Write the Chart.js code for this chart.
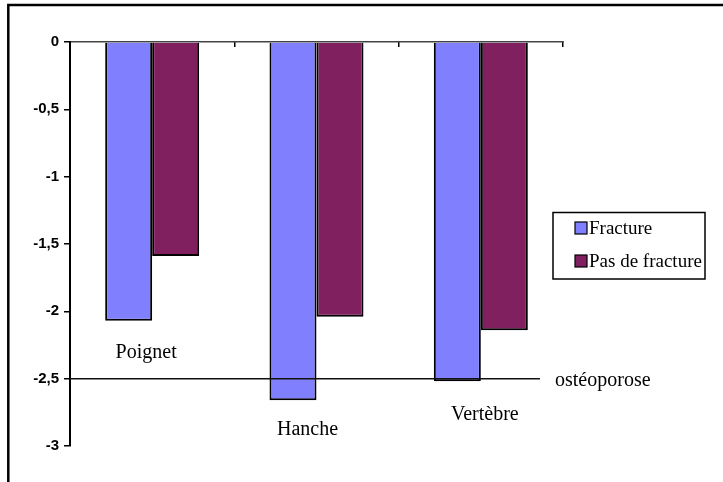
<!DOCTYPE html>
<html>
<head>
<meta charset="utf-8">
<script src="https://cdn.jsdelivr.net/npm/chart.js@4"></script>
<style>
html, body { margin: 0; padding: 0; background: #fff; }
canvas { display: block; }
</style>
</head>
<body>
<canvas id="chart" width="723" height="482"></canvas>
<script>
const categories = ["Poignet", "Hanche", "Vertèbre"]
const seriesLabels = ["Fracture", "Pas de fracture"]
const fracture = [-2.07, -2.66, -2.52]
const pasDeFracture = [-1.59, -2.04, -2.14]
const seuilValue = -2.5
const seuilLabel = "ostéoporose"

// where each category name sits: x offset from category centre (px), y in data units
const labelPlacement = [
    { dx: -6, y: -2.31 },
    { dx: -9, y: -2.876 },
    { dx: 4, y: -2.77 }
]

const serif = "'Liberation Serif', 'Times New Roman', serif"
const sans = "'Liberation Sans', Arial, sans-serif"

const decor = {
    id: "decor",
    afterDatasetsDraw(chart) {
        const { ctx, chartArea, scales } = chart
        const x = scales.x, y = scales.y
        ctx.save()

        // frame (top + left)
        ctx.strokeStyle = "#000"
        ctx.lineWidth = 2.5
        ctx.beginPath()
        ctx.moveTo(723, 5)
        ctx.lineTo(8.3, 5)
        ctx.lineTo(8.3, 482)
        ctx.stroke()

        // osteoporosis threshold
        const ly = y.getPixelForValue(seuilValue)
        ctx.lineWidth = 1.5
        ctx.strokeStyle = "#111"
        ctx.beginPath()
        ctx.moveTo(chartArea.left, ly)
        ctx.lineTo(chartArea.right - 23, ly)
        ctx.stroke()
        ctx.fillStyle = "#000"
        ctx.font = "20px " + serif
        ctx.textBaseline = "middle"
        ctx.textAlign = "left"
        ctx.fillText(seuilLabel, 555, ly + 2)

        // category names inside the plot
        ctx.font = "20px " + serif
        ctx.textAlign = "center"
        categories.forEach((c, i) => {
            const p = labelPlacement[i]
            ctx.fillText(c, x.getPixelForValue(i) + p.dx, y.getPixelForValue(p.y))
        })

        // legend
        ctx.lineWidth = 1.5
        ctx.strokeStyle = "#000"
        ctx.strokeRect(553, 212.5, 152, 66.5)
        ctx.font = "19px " + serif
        ctx.textAlign = "left"
        chart.data.datasets.forEach((ds, i) => {
            const cy = 228 + i * 33
            ctx.fillStyle = ds.backgroundColor
            ctx.fillRect(575, cy - 6, 12, 12)
            ctx.lineWidth = 1.2
            ctx.strokeRect(575, cy - 6, 12, 12)
            ctx.fillStyle = "#000"
            ctx.fillText(ds.label, 589, cy + 1)
        })
        ctx.restore()
    }
}

new Chart(document.getElementById("chart"), {
    type: "bar",
    data: {
        labels: categories,
        datasets: [{
            label: seriesLabels[0],
            data: fracture,
            backgroundColor: "#8080FF",
            borderColor: "#000",
            borderWidth: 2
        }, {
            label: seriesLabels[1],
            data: pasDeFracture,
            backgroundColor: "#80205F",
            borderColor: "#000",
            borderWidth: 2
        }]
    },
    options: {
        responsive: false,
        animation: false,
        categoryPercentage: 0.572,
        barPercentage: 1,
        layout: {
            padding: { left: 0, right: 160, top: 42, bottom: 36 }
        },
        scales: {
            x: {
                position: "top",
                afterFit: (scale) => { scale.height = 0 },
                ticks: { display: false },
                grid: {
                    offset: true,
                    drawOnChartArea: false,
                    tickLength: -5,
                    color: "#000",
                    lineWidth: 1.5
                },
                border: { color: "#444", width: 1.5 }
            },
            y: {
                min: -3,
                max: 0,
                afterFit: (scale) => { scale.width = 70 },
                ticks: {
                    stepSize: 0.5,
                    padding: 5,
                    color: "#000",
                    font: { family: sans, size: 15, weight: "bold" },
                    callback: (value) => String(value).replace(".", ",")
                },
                grid: {
                    drawOnChartArea: false,
                    tickLength: 6,
                    color: "#000",
                    lineWidth: 1.5
                },
                border: { color: "#000", width: 2 }
            }
        },
        plugins: {
            legend: { display: false },
            tooltip: { enabled: false }
        }
    },
    plugins: [decor]
})
</script>
</body>
</html>
